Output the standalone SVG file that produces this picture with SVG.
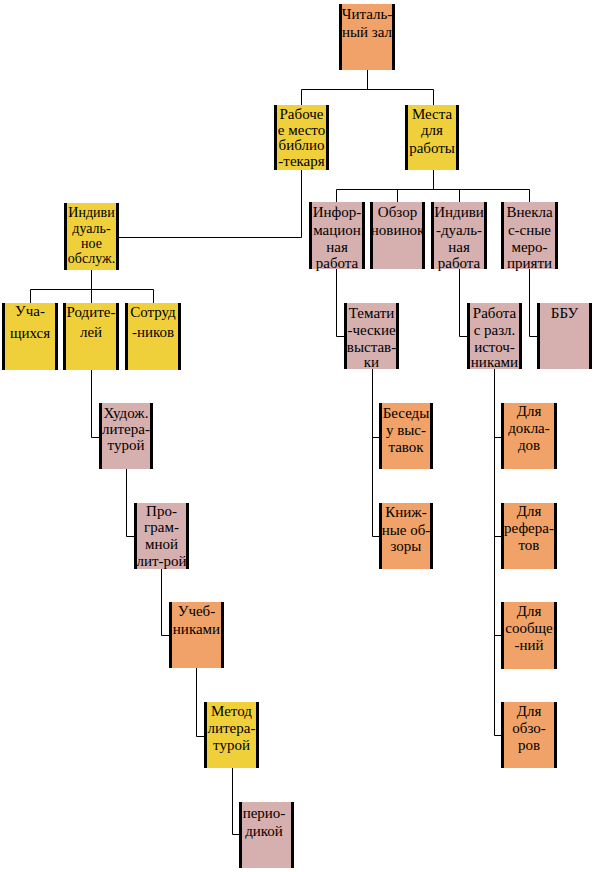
<svg xmlns="http://www.w3.org/2000/svg" width="594" height="872" viewBox="0 0 594 872">
<style>
.bg{fill:#ffffff}
.o{fill:#F0A268}
.y{fill:#F0D03A}
.m{fill:#D6AFAF}
.bar{fill:#000000}
text{font-family:"Liberation Serif","Times New Roman",serif;font-size:15px;fill:#000000;text-anchor:middle}
#connectors line{stroke:#000000;stroke-width:1;fill:none}
</style>
<rect class="bg" x="0" y="0" width="594" height="872"/>
<g id="connectors">
<line x1="367.5" y1="70" x2="367.5" y2="89.5"/>
<line x1="301.5" y1="89.5" x2="433.5" y2="89.5"/>
<line x1="301.5" y1="89.5" x2="301.5" y2="105"/>
<line x1="433.5" y1="89.5" x2="433.5" y2="105"/>
<line x1="301.5" y1="170" x2="301.5" y2="237.5"/>
<line x1="119" y1="237.5" x2="301.5" y2="237.5"/>
<line x1="433.5" y1="170" x2="433.5" y2="189.5"/>
<line x1="336.5" y1="189.5" x2="529.5" y2="189.5"/>
<line x1="336.5" y1="189.5" x2="336.5" y2="202"/>
<line x1="397.5" y1="189.5" x2="397.5" y2="202"/>
<line x1="459.5" y1="189.5" x2="459.5" y2="202"/>
<line x1="529.5" y1="189.5" x2="529.5" y2="202"/>
<line x1="91.5" y1="270" x2="91.5" y2="289.5"/>
<line x1="30.5" y1="289.5" x2="153.5" y2="289.5"/>
<line x1="30.5" y1="289.5" x2="30.5" y2="303"/>
<line x1="91.5" y1="289.5" x2="91.5" y2="303"/>
<line x1="153.5" y1="289.5" x2="153.5" y2="303"/>
<line x1="91.5" y1="370" x2="91.5" y2="437.5"/>
<line x1="91.5" y1="437.5" x2="99" y2="437.5"/>
<line x1="126.5" y1="469" x2="126.5" y2="536.5"/>
<line x1="126.5" y1="536.5" x2="134" y2="536.5"/>
<line x1="161.5" y1="569" x2="161.5" y2="635.5"/>
<line x1="161.5" y1="635.5" x2="169" y2="635.5"/>
<line x1="196.5" y1="668" x2="196.5" y2="736.5"/>
<line x1="196.5" y1="736.5" x2="204" y2="736.5"/>
<line x1="232.5" y1="768" x2="232.5" y2="834.5"/>
<line x1="232.5" y1="834.5" x2="239" y2="834.5"/>
<line x1="336.5" y1="269" x2="336.5" y2="336.5"/>
<line x1="336.5" y1="336.5" x2="344" y2="336.5"/>
<line x1="372.5" y1="369" x2="372.5" y2="536.5"/>
<line x1="372.5" y1="437.5" x2="379" y2="437.5"/>
<line x1="372.5" y1="536.5" x2="379" y2="536.5"/>
<line x1="459.5" y1="269" x2="459.5" y2="336.5"/>
<line x1="459.5" y1="336.5" x2="467" y2="336.5"/>
<line x1="494.5" y1="369" x2="494.5" y2="735.5"/>
<line x1="494.5" y1="437.5" x2="501" y2="437.5"/>
<line x1="494.5" y1="536.5" x2="501" y2="536.5"/>
<line x1="494.5" y1="635.5" x2="501" y2="635.5"/>
<line x1="494.5" y1="735.5" x2="501" y2="735.5"/>
<line x1="529.5" y1="269" x2="529.5" y2="336.5"/>
<line x1="529.5" y1="336.5" x2="537" y2="336.5"/>
</g>
<g id="n-chitalny">
<rect class="o" x="339" y="4" width="56" height="66"/><rect class="bar" x="339" y="4" width="3" height="66"/><rect class="bar" x="392" y="4" width="3" height="66"/>
<text x="367" y="19">Читаль-</text><text x="367" y="37">ный зал</text>
</g>
<g id="n-rabochee">
<rect class="y" x="274" y="105" width="55" height="65"/><rect class="bar" x="274" y="105" width="3" height="65"/><rect class="bar" x="326" y="105" width="3" height="65"/>
<text x="301.5" y="119">Рабоче</text><text x="301.5" y="135">е место</text><text x="301.5" y="150">библио</text><text x="301.5" y="166">-текаря</text>
</g>
<g id="n-mesta">
<rect class="y" x="405" y="105" width="54" height="65"/><rect class="bar" x="405" y="105" width="3" height="65"/><rect class="bar" x="456" y="105" width="3" height="65"/>
<text x="432" y="119">Места</text><text x="432" y="135">для</text><text x="432" y="153">работы</text>
</g>
<g id="n-individ-obsl">
<rect class="y" x="64" y="203" width="55" height="67"/><rect class="bar" x="64" y="203" width="3" height="67"/><rect class="bar" x="116" y="203" width="3" height="67"/>
<text x="91.5" y="217" style="font-size:14px">Индиви</text><text x="91.5" y="233" style="font-size:14px">дуаль-</text><text x="91.5" y="248" style="font-size:14px">ное</text><text x="91.5" y="263" style="font-size:14px">обслуж.</text>
</g>
<g id="n-inform">
<rect class="m" x="309" y="202" width="56" height="67"/><rect class="bar" x="309" y="202" width="3" height="67"/><rect class="bar" x="362" y="202" width="3" height="67"/>
<text x="337" y="217">Инфор-</text><text x="337" y="235">мацион</text><text x="337" y="252">ная</text><text x="337" y="268">работа</text>
</g>
<g id="n-obzor">
<rect class="m" x="370" y="202" width="55" height="67"/><rect class="bar" x="370" y="202" width="3" height="67"/><rect class="bar" x="422" y="202" width="3" height="67"/>
<text x="397.5" y="217">Обзор</text><text x="397.5" y="235">новинок</text>
</g>
<g id="n-individ-rab">
<rect class="m" x="431" y="202" width="56" height="67"/><rect class="bar" x="431" y="202" width="3" height="67"/><rect class="bar" x="484" y="202" width="3" height="67"/>
<text x="459" y="217">Индиви</text><text x="459" y="235">-дуаль-</text><text x="459" y="252">ная</text><text x="459" y="268">работа</text>
</g>
<g id="n-vnekl">
<rect class="m" x="501" y="202" width="57" height="67"/><rect class="bar" x="501" y="202" width="3" height="67"/><rect class="bar" x="555" y="202" width="3" height="67"/>
<text x="529.5" y="217">Внекла</text><text x="529.5" y="235">с-сные</text><text x="529.5" y="252">меро-</text><text x="529.5" y="268">прияти</text>
</g>
<g id="n-uchasch">
<rect class="y" x="2" y="303" width="56" height="67"/><rect class="bar" x="2" y="303" width="3" height="67"/><rect class="bar" x="55" y="303" width="3" height="67"/>
<text x="30" y="316">Уча-</text><text x="30" y="338">щихся</text>
</g>
<g id="n-roditel">
<rect class="y" x="63" y="303" width="56" height="67"/><rect class="bar" x="63" y="303" width="3" height="67"/><rect class="bar" x="116" y="303" width="3" height="67"/>
<text x="91" y="317">Родите-</text><text x="91" y="337">лей</text>
</g>
<g id="n-sotrud">
<rect class="y" x="125" y="303" width="56" height="67"/><rect class="bar" x="125" y="303" width="3" height="67"/><rect class="bar" x="178" y="303" width="3" height="67"/>
<text x="153" y="317">Сотруд</text><text x="153" y="337">-ников</text>
</g>
<g id="n-temat">
<rect class="m" x="344" y="303" width="55" height="66"/><rect class="bar" x="344" y="303" width="3" height="66"/><rect class="bar" x="396" y="303" width="3" height="66"/>
<text x="371.5" y="318">Темати</text><text x="371.5" y="335">-ческие</text><text x="371.5" y="352">выстав-</text><text x="371.5" y="367">ки</text>
</g>
<g id="n-rabota-ist">
<rect class="m" x="467" y="303" width="55" height="66"/><rect class="bar" x="467" y="303" width="3" height="66"/><rect class="bar" x="519" y="303" width="3" height="66"/>
<text x="494.5" y="318">Работа</text><text x="494.5" y="335">с разл.</text><text x="494.5" y="352">источ-</text><text x="494.5" y="367">никами</text>
</g>
<g id="n-bbu">
<rect class="m" x="537" y="303" width="55" height="66"/><rect class="bar" x="537" y="303" width="3" height="66"/><rect class="bar" x="589" y="303" width="3" height="66"/>
<text x="564.5" y="318">ББУ</text>
</g>
<g id="n-hudozh">
<rect class="m" x="99" y="403" width="54" height="66"/><rect class="bar" x="99" y="403" width="3" height="66"/><rect class="bar" x="150" y="403" width="3" height="66"/>
<text x="126" y="418">Худож.</text><text x="126" y="434">литера-</text><text x="126" y="450">турой</text>
</g>
<g id="n-besedy">
<rect class="o" x="379" y="403" width="54" height="66"/><rect class="bar" x="379" y="403" width="3" height="66"/><rect class="bar" x="430" y="403" width="3" height="66"/>
<text x="406" y="418">Беседы</text><text x="406" y="435">у выс-</text><text x="406" y="452">тавок</text>
</g>
<g id="n-dokl">
<rect class="o" x="501" y="403" width="56" height="66"/><rect class="bar" x="501" y="403" width="3" height="66"/><rect class="bar" x="554" y="403" width="3" height="66"/>
<text x="529" y="416">Для</text><text x="529" y="433">докла-</text><text x="529" y="450">дов</text>
</g>
<g id="n-program">
<rect class="m" x="134" y="503" width="55" height="66"/><rect class="bar" x="134" y="503" width="3" height="66"/><rect class="bar" x="186" y="503" width="3" height="66"/>
<text x="161.5" y="516">Про-</text><text x="161.5" y="532">грам-</text><text x="161.5" y="549">мной</text><text x="161.5" y="566">лит-рой</text>
</g>
<g id="n-knizh">
<rect class="o" x="379" y="503" width="54" height="66"/><rect class="bar" x="379" y="503" width="3" height="66"/><rect class="bar" x="430" y="503" width="3" height="66"/>
<text x="406" y="517">Книж-</text><text x="406" y="535">ные об-</text><text x="406" y="551">зоры</text>
</g>
<g id="n-ref">
<rect class="o" x="501" y="503" width="56" height="66"/><rect class="bar" x="501" y="503" width="3" height="66"/><rect class="bar" x="554" y="503" width="3" height="66"/>
<text x="529" y="516">Для</text><text x="529" y="533">рефера-</text><text x="529" y="550">тов</text>
</g>
<g id="n-uchebn">
<rect class="o" x="169" y="602" width="55" height="66"/><rect class="bar" x="169" y="602" width="3" height="66"/><rect class="bar" x="221" y="602" width="3" height="66"/>
<text x="196.5" y="616">Учеб-</text><text x="196.5" y="634">никами</text>
</g>
<g id="n-soobsh">
<rect class="o" x="501" y="602" width="56" height="67"/><rect class="bar" x="501" y="602" width="3" height="67"/><rect class="bar" x="554" y="602" width="3" height="67"/>
<text x="529" y="616">Для</text><text x="529" y="633">сообще</text><text x="529" y="650">-ний</text>
</g>
<g id="n-metod">
<rect class="y" x="204" y="702" width="55" height="66"/><rect class="bar" x="204" y="702" width="3" height="66"/><rect class="bar" x="256" y="702" width="3" height="66"/>
<text x="231.5" y="716">Метод</text><text x="231.5" y="733">литера-</text><text x="231.5" y="750">турой</text>
</g>
<g id="n-obzorov">
<rect class="o" x="501" y="702" width="56" height="66"/><rect class="bar" x="501" y="702" width="3" height="66"/><rect class="bar" x="554" y="702" width="3" height="66"/>
<text x="529" y="716">Для</text><text x="529" y="733">обзо-</text><text x="529" y="750">ров</text>
</g>
<g id="n-period">
<rect class="m" x="239" y="802" width="55" height="66"/><rect class="bar" x="239" y="802" width="3" height="66"/><rect class="bar" x="291" y="802" width="3" height="66"/>
<text x="264" y="818">перио-</text><text x="264" y="836">дикой</text>
</g>
</svg>
